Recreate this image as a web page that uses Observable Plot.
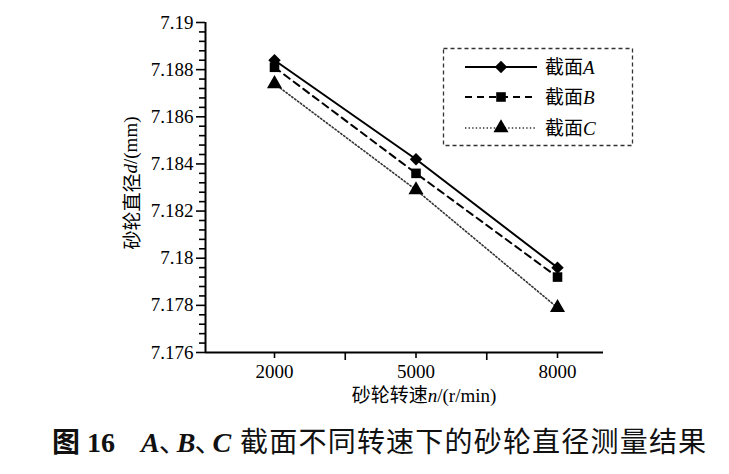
<!DOCTYPE html>
<html><head><meta charset="utf-8">
<script src="https://cdn.jsdelivr.net/npm/d3@7"></script>
<script src="https://cdn.jsdelivr.net/npm/@observablehq/plot@0.6"></script>
<style>
body{margin:0;background:#fff;width:729px;height:474px;position:relative;overflow:hidden}
#chart{position:absolute;left:0;top:0}
#cap{position:absolute;left:52px;top:420px;font-size:28px;line-height:40px;white-space:nowrap;color:#111}
.cjk{font-family:'Noto Sans CJK SC',sans-serif}
.ser{font-family:'Liberation Serif',serif}
.dun{font-family:'Noto Sans CJK SC',sans-serif;letter-spacing:-10px;margin-left:-1px}
</style></head><body><div id="chart"></div>
<div id="cap"><span class="cjk" style="font-weight:bold">图</span><span class="ser" style="font-weight:bold"> 16</span><span style="display:inline-block;width:26px"></span><span class="ser" style="font-weight:bold;font-style:italic">A</span><span class="dun">、</span><span class="ser" style="font-weight:bold;font-style:italic">B</span><span class="dun">、</span><span class="ser" style="font-weight:bold;font-style:italic">C</span><span style="display:inline-block;width:9px"></span><span class="cjk" style="letter-spacing:1.2px">截面不同转速下的砂轮直径测量结果</span></div>
<script>
// ---- data ----
const speeds = [2000, 5000, 8000];
const sectionA = [7.1884, 7.1842, 7.1796];
const sectionB = [7.1881, 7.1836, 7.1792];
const sectionC = [7.1874, 7.1829, 7.1779];
const seriesNames = ["A", "B", "C"];
const xTicks = [2000, 5000, 8000];
const xMinorTicks = [3500, 6500];
const yTicks = [7.176, 7.178, 7.18, 7.182, 7.184, 7.186, 7.188, 7.19];
const xDomain = [537, 8975];
const yDomain = [7.176, 7.19];

const rows = (vals) => speeds.map((s, i) => ({speed: s, d: vals[i]}));
const dataA = rows(sectionA), dataB = rows(sectionB), dataC = rows(sectionC);
const yMinor = d3.range(0, 36).map(i => +(7.176 + i * 0.0004).toFixed(4)).filter(v => v <= 7.19 && !yTicks.some(t => Math.abs(t - v) < 1e-9));

const serif = "'Liberation Serif', 'Noto Sans CJK SC', serif";
const dotDash = "1.4,2.2";

const plot = Plot.plot({
  width: 729, height: 410,
  marginLeft: 205, marginRight: 126, marginTop: 22, marginBottom: 58,
  style: {fontFamily: serif, fontSize: "19px", color: "#000", background: "transparent"},
  x: {type: "linear", domain: xDomain},
  y: {domain: yDomain},
  marks: [
    Plot.axisY(yTicks, {tickSize: 9, tickPadding: 3, strokeWidth: 1.6, tickFormat: d => String(d), label: null}),
    Plot.axisY(yMinor, {tickSize: 6, strokeWidth: 1.6, tickFormat: () => "", label: null}),
    Plot.axisX(xTicks, {tickSize: 6, tickPadding: 6, strokeWidth: 1.6, tickFormat: d => String(d), label: null}),
    Plot.axisX(xMinorTicks, {tickSize: 8, strokeWidth: 1.6, tickFormat: () => "", label: null}),
    Plot.ruleX([xDomain[0]], {strokeWidth: 2, stroke: "black"}),
    Plot.ruleY([yDomain[0]], {strokeWidth: 2, stroke: "black"}),
    Plot.lineY(dataC, {x: "speed", y: "d", stroke: "#333", strokeWidth: 1.6, strokeDasharray: dotDash}),
    Plot.lineY(dataB, {x: "speed", y: "d", stroke: "black", strokeWidth: 2, strokeDasharray: "7,5"}),
    Plot.lineY(dataA, {x: "speed", y: "d", stroke: "black", strokeWidth: 2}),
    Plot.dot(dataC, {x: "speed", y: "d", symbol: "triangle", r: 5.6, fill: "black", stroke: "none"}),
    Plot.dot(dataB, {x: "speed", y: "d", symbol: "square", r: 5.4, fill: "black", stroke: "none"}),
    Plot.dot(dataA, {x: "speed", y: "d", symbol: "diamond2", r: 5.6, fill: "black", stroke: "none"})
  ]
});
document.getElementById("chart").appendChild(plot);

const svg = d3.select(plot);
// axis titles
const yl = svg.append("text").attr("transform", "translate(130,183) rotate(-90)")
  .attr("text-anchor", "middle").attr("dominant-baseline", "central").attr("font-size", 19);
yl.append("tspan").attr("font-family", "'Noto Sans CJK SC'").text("砂轮直径");
yl.append("tspan").attr("font-family", serif).attr("font-style", "italic").text("d");
yl.append("tspan").attr("font-family", serif).text("/(mm)");

const xl = svg.append("text").attr("x", 424).attr("y", 402).attr("text-anchor", "middle").attr("font-size", 19);
xl.append("tspan").attr("font-family", "'Noto Sans CJK SC'").text("砂轮转速");
xl.append("tspan").attr("font-family", serif).attr("font-style", "italic").text("n");
xl.append("tspan").attr("font-family", serif).text("/(r/min)");

// legend
const lg = svg.append("g");
lg.append("rect").attr("x", 443.5).attr("y", 48.5).attr("width", 189).attr("height", 97)
  .attr("fill", "white").attr("stroke", "#333").attr("stroke-width", 1.3).attr("stroke-dasharray", "4,3");
const legendItems = [
  {name: seriesNames[0], dash: null, sw: 2, stroke: "black", sym: d3.symbolDiamond2, r: 5.6},
  {name: seriesNames[1], dash: "7,5", sw: 2, stroke: "black", sym: d3.symbolSquare, r: 5.4},
  {name: seriesNames[2], dash: dotDash, sw: 1.6, stroke: "#333", sym: d3.symbolTriangle, r: 5.6}
];
const ly = [67, 97, 128];
legendItems.forEach((it, i) => {
  const y = ly[i];
  const ln = lg.append("line").attr("x1", 465).attr("x2", 537).attr("y1", y).attr("y2", y)
    .attr("stroke", it.stroke).attr("stroke-width", it.sw);
  if (it.dash) ln.attr("stroke-dasharray", it.dash);
  lg.append("path").attr("transform", `translate(501,${y})`)
    .attr("d", d3.symbol().type(it.sym).size(Math.PI * it.r * it.r)()).attr("fill", "black");
  const t = lg.append("text").attr("x", 545).attr("y", y + 7).attr("font-size", 19).attr("text-anchor", "start");
  t.append("tspan").attr("font-family", "'Noto Sans CJK SC'").text("截面");
  t.append("tspan").attr("font-family", serif).attr("font-style", "italic").text(it.name);
});
</script></body></html>
